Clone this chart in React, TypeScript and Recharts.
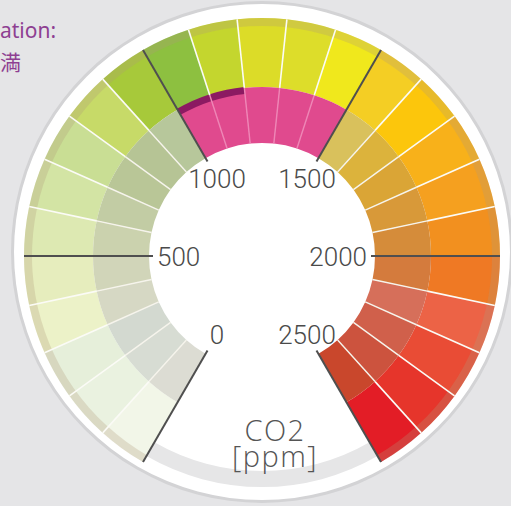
import React from 'react';
import { PieChart, Pie, Cell } from 'recharts';

// CO2 scale in ppm, one wedge per 100 ppm
const segmentUpper = [
  100, 200, 300, 400, 500, 600, 700, 800, 900, 1000, 1100, 1200, 1300,
  1400, 1500, 1600, 1700, 1800, 1900, 2000, 2100, 2200, 2300, 2400, 2500,
];
const outerColors = [
  '#f2f6e8', '#eaf2e0', '#e6efda', '#ecf2c8', '#e6edbd',
  '#dde9b2', '#d3e4a4', '#c9de94', '#c7da68', '#a7c93a',
  '#8dc040', '#c4d62e', '#dcdc28', '#dddd2a', '#f0e81c',
  '#f4ce24', '#fcc60c', '#f8b11a', '#f5a01f', '#f2901f',
  '#ef7924', '#ec6346', '#e94c35', '#e6352b', '#e31d26',
];
const innerColors = [
  '#dcdcd3', '#d7dcd3', '#d3d9d0', '#d6d8c4', '#d1d5b9',
  '#cbd2ae', '#c2cca4', '#b9c697', '#b6c495', '#b7c79b',
  '#e04a8e', '#e04a8e', '#e04a8e', '#e04a8e', '#e04a8e',
  '#d9c15c', '#dcb33c', '#daa536', '#d89939', '#d58c3a',
  '#d47b3d', '#d66f5a', '#d0604b', '#cc533e', '#c9472c',
];
const tickValues = [0, 500, 1000, 1500, 2000, 2500];
const tickLabels = ['0', '500', '1000', '1500', '2000', '2500'];
const markerRange = [1000, 1200];
const scaleMax = 2500;

const CX = 262;
const CY = 256;
const START = 240;
const END = -60;
const R_IN = 113;
const R_MID = 169;
const R_OUT = 238;
const RADIAN = Math.PI / 180;

const polar = (cx: number, cy: number, r: number, a: number) => ({
  x: cx + r * Math.cos(-a * RADIAN),
  y: cy + r * Math.sin(-a * RADIAN),
});

const segments = segmentUpper.map((u, i) => ({
  name: `${i === 0 ? 0 : segmentUpper[i - 1]}-${u}`,
  value: u - (i === 0 ? 0 : segmentUpper[i - 1]),
}));

const tickIntervals = tickValues.slice(1).map((v, i) => ({ value: v - tickValues[i] }));

const markerData = [
  { value: markerRange[0], fill: 'none' },
  { value: markerRange[1] - markerRange[0], fill: '#8c1a62' },
  { value: scaleMax - markerRange[1], fill: 'none' },
];

const renderSeparator = (p: any) => {
  const { cx, cy, startAngle, index } = p;
  if (index % 5 === 0) return <g key={`sep-${index}`} />;
  const pink = index >= 10 && index < 15;
  const a = polar(cx, cy, R_IN, startAngle);
  const b = polar(cx, cy, R_MID, startAngle);
  const c = polar(cx, cy, R_OUT, startAngle);
  return (
    <g key={`sep-${index}`}>
      <line x1={a.x} y1={a.y} x2={b.x} y2={b.y} stroke={pink ? '#ee86b6' : '#f6f4ec'} strokeWidth={1.4} />
      <line x1={b.x} y1={b.y} x2={c.x} y2={c.y} stroke="#fbfbf6" strokeWidth={1.6} />
    </g>
  );
};

const renderTick = (p: any) => {
  const { cx, cy, startAngle, endAngle, index } = p;
  const items = [{ a: startAngle, t: tickLabels[index] }];
  if (index === tickIntervals.length - 1) items.push({ a: endAngle, t: tickLabels[index + 1] });
  return (
    <g key={`tick-${index}`}>
      {items.map(({ a, t }) => {
        const o = polar(cx, cy, R_OUT, a);
        const i = polar(cx, cy, 109, a);
        const cos = Math.cos(a * RADIAN);
        let anchor: 'start' | 'middle' | 'end' = 'middle';
        let lp;
        if (Math.abs(cos) > 0.95) {
          anchor = cos < 0 ? 'start' : 'end';
          lp = polar(cx, cy, 105, a);
        } else {
          lp = polar(cx, cy, 90, a);
        }
        return (
          <g key={t}>
            <line x1={i.x} y1={i.y} x2={o.x} y2={o.y} stroke="#4f4f4f" strokeWidth={2} />
            <text
              x={lp.x}
              y={lp.y + 1}
              textAnchor={anchor}
              dominantBaseline="central"
              fontFamily="Roboto, sans-serif"
              fontWeight={300}
              fontSize={26}
              fill="#4a4a4a"
            >
              {t}
            </text>
          </g>
        );
      })}
    </g>
  );
};

export default function App() {
  return (
    <div style={{ position: 'absolute', left: 0, top: 0, width: 511, height: 506, background: '#e5e5e7', overflow: 'hidden' }}>
      <PieChart width={511} height={506} margin={{ top: 0, right: 0, bottom: 0, left: 0 }}>
        <Pie data={[{ value: 1 }]} dataKey="value" cx={CX} cy={252} innerRadius={0} outerRadius={251} fill="#d3d3d5" stroke="none" isAnimationActive={false} />
        <Pie data={[{ value: 1 }]} dataKey="value" cx={CX} cy={252} innerRadius={0} outerRadius={248} fill="#ffffff" stroke="none" isAnimationActive={false} />
        <Pie data={[{ value: 1 }]} dataKey="value" cx={CX} cy={CY} startAngle={-60} endAngle={-120} innerRadius={215} outerRadius={231} fill="#e6e6e7" stroke="none" isAnimationActive={false} />
        <Pie data={segments} dataKey="value" cx={CX} cy={CY} startAngle={START} endAngle={END} innerRadius={R_MID} outerRadius={R_OUT} stroke="none" isAnimationActive={false}>
          {segments.map((s, i) => (
            <Cell key={s.name} fill={outerColors[i]} />
          ))}
        </Pie>
        <Pie data={segments} dataKey="value" cx={CX} cy={CY} startAngle={START} endAngle={END} innerRadius={R_IN} outerRadius={R_MID} stroke="none" isAnimationActive={false}>
          {segments.map((s, i) => (
            <Cell key={s.name} fill={innerColors[i]} />
          ))}
        </Pie>
        <Pie data={[{ value: scaleMax }]} dataKey="value" cx={CX} cy={CY} startAngle={START} endAngle={END} innerRadius={230} outerRadius={R_OUT} fill="#b09a7a" fillOpacity={0.28} stroke="none" isAnimationActive={false} />
        <Pie data={markerData} dataKey="value" cx={CX} cy={CY} startAngle={START} endAngle={END} innerRadius={163} outerRadius={170} stroke="none" isAnimationActive={false}>
          {markerData.map((m, i) => (
            <Cell key={i} fill={m.fill} />
          ))}
        </Pie>
        <Pie data={segments} dataKey="value" cx={CX} cy={CY} startAngle={START} endAngle={END} innerRadius={R_IN} outerRadius={R_OUT} fill="none" stroke="none" label={renderSeparator} labelLine={false} isAnimationActive={false} />
        <Pie data={tickIntervals} dataKey="value" cx={CX} cy={CY} startAngle={START} endAngle={END} innerRadius={R_IN} outerRadius={R_OUT} fill="none" stroke="none" label={renderTick} labelLine={false} isAnimationActive={false} />
      </PieChart>
      <div style={{ position: 'absolute', left: 0, top: 16, fontFamily: '"Noto Sans", sans-serif', fontSize: 21, color: '#8e3f92' }}>ation:</div>
      <div style={{ position: 'absolute', left: 0, top: 46, fontFamily: '"Noto Sans CJK JP", sans-serif', fontSize: 21, color: '#8e3f92' }}>満</div>
      <div style={{ position: 'absolute', left: 200, width: 150, top: 417, textAlign: 'center', fontFamily: '"Open Sans", sans-serif', fontWeight: 300, fontSize: 29, lineHeight: '26px', color: '#555555', letterSpacing: 1.5 }}>
        CO2
        <br />
        [ppm]
      </div>
    </div>
  );
}
